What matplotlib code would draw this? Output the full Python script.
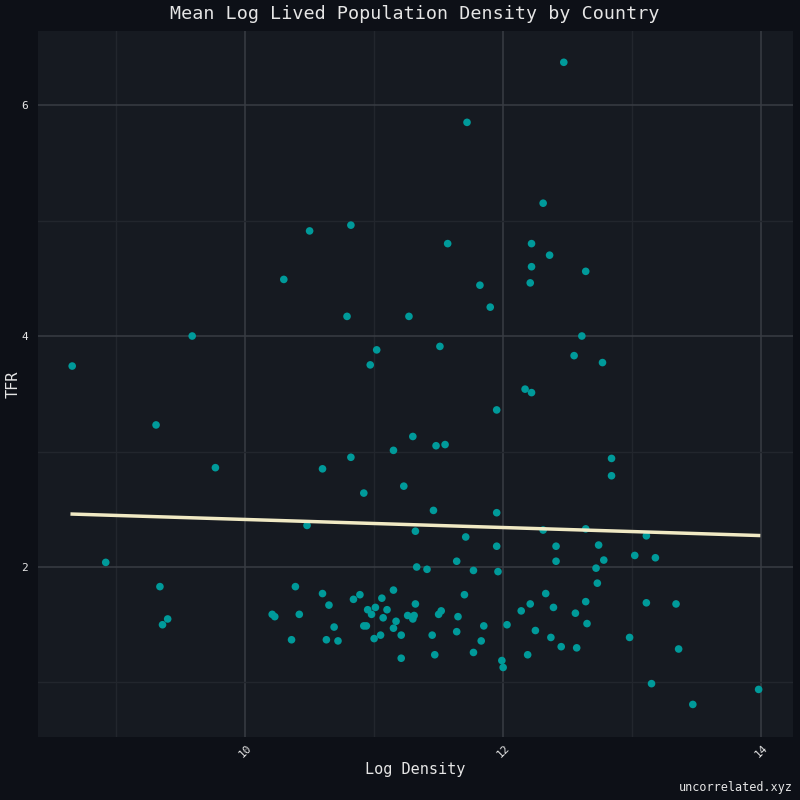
import numpy as np
import matplotlib
matplotlib.use("Agg")
import matplotlib.pyplot as plt
from matplotlib.ticker import MultipleLocator

# mean log lived population density vs total fertility rate, one point per country
log_density = [
    8.66, 8.92, 9.31, 9.34, 9.36, 9.40, 9.59, 9.77, 10.21, 10.23,
    10.30, 10.36, 10.39, 10.42, 10.48, 10.50, 10.60, 10.60, 10.63, 10.65,
    10.69, 10.72, 10.79, 10.82, 10.82, 10.84, 10.89, 10.92, 10.92, 10.94,
    10.95, 10.97, 10.98, 11.00, 11.01, 11.02, 11.05, 11.06, 11.07, 11.10,
    11.15, 11.15, 11.15, 11.17, 11.21, 11.21, 11.23, 11.26, 11.27, 11.30,
    11.30, 11.31, 11.32, 11.32, 11.33, 11.41, 11.45, 11.46, 11.47, 11.48,
    11.50, 11.51, 11.52, 11.55, 11.57, 11.64, 11.64, 11.65, 11.70, 11.71,
    11.72, 11.77, 11.77, 11.82, 11.83, 11.85, 11.90, 11.95, 11.95, 11.95,
    11.96, 11.99, 12.00, 12.03, 12.14, 12.17, 12.19, 12.21, 12.22, 12.22,
    12.22, 12.21, 12.25, 12.31, 12.31, 12.33, 12.36, 12.37, 12.39, 12.41,
    12.41, 12.45, 12.47, 12.55, 12.56, 12.57, 12.61, 12.64, 12.64, 12.64,
    12.65, 12.72, 12.73, 12.74, 12.77, 12.78, 12.84, 12.84, 12.98, 13.02,
    13.11, 13.11, 13.15, 13.18, 13.34, 13.36, 13.47, 13.98,
]
tfr = [
    3.74, 2.04, 3.23, 1.83, 1.50, 1.55, 4.00, 2.86, 1.59, 1.57,
    4.49, 1.37, 1.83, 1.59, 2.36, 4.91, 2.85, 1.77, 1.37, 1.67,
    1.48, 1.36, 4.17, 2.95, 4.96, 1.72, 1.76, 1.49, 2.64, 1.49,
    1.63, 3.75, 1.59, 1.38, 1.65, 3.88, 1.41, 1.73, 1.56, 1.63,
    3.01, 1.80, 1.47, 1.53, 1.41, 1.21, 2.70, 1.58, 4.17, 1.55,
    3.13, 1.58, 2.31, 1.68, 2.00, 1.98, 1.41, 2.49, 1.24, 3.05,
    1.59, 3.91, 1.62, 3.06, 4.80, 2.05, 1.44, 1.57, 1.76, 2.26,
    5.85, 1.97, 1.26, 4.44, 1.36, 1.49, 4.25, 2.47, 2.18, 3.36,
    1.96, 1.19, 1.13, 1.50, 1.62, 3.54, 1.24, 1.68, 4.80, 3.51,
    4.60, 4.46, 1.45, 2.32, 5.15, 1.77, 4.70, 1.39, 1.65, 2.05,
    2.18, 1.31, 6.37, 3.83, 1.60, 1.30, 4.00, 2.33, 1.70, 4.56,
    1.51, 1.99, 1.86, 2.19, 3.77, 2.06, 2.94, 2.79, 1.39, 2.10,
    2.27, 1.69, 0.99, 2.08, 1.68, 1.29, 0.81, 0.94,
]

title = "Mean Log Lived Population Density by Country"
x_label = "Log Density"
y_label = "TFR"
credit = "uncorrelated.xyz"

fig_bg = "#0d1017"
ax_bg = "#161a21"
dot_color = "#009a9a"
fit_color = "#f0e9c4"
text_color = "#e6e6e6"

plt.rcParams["font.family"] = ["DejaVu Sans Mono"]

fig = plt.figure(figsize=(8, 8), dpi=100, facecolor=fig_bg)
ax = fig.add_axes([0.0475, 0.07875, 0.944, 0.8825], facecolor=ax_bg)

x = np.array(log_density)
y = np.array(tfr)
ax.scatter(x, y, s=30, color=dot_color, edgecolors="none", zorder=3)

slope, intercept = np.polyfit(x, y, 1)
xs = np.array([x.min(), x.max()])
ax.plot(xs, slope * xs + intercept, color=fit_color, lw=2.5, zorder=4)

ax.set_xlim(8.395, 14.248)
ax.set_ylim(0.528, 6.641)
ax.xaxis.set_major_locator(MultipleLocator(2))
ax.xaxis.set_minor_locator(MultipleLocator(1))
ax.yaxis.set_major_locator(MultipleLocator(2))
ax.yaxis.set_minor_locator(MultipleLocator(1))
ax.grid(which="major", color="#393d44", lw=1.1)
ax.grid(which="minor", color="#22262d", lw=1.0)
ax.set_axisbelow(True)
for sp in ax.spines.values():
    sp.set_visible(False)

ax.tick_params(which="both", length=0, colors=text_color, labelsize=8)
ax.tick_params(axis="y", pad=7)
ax.tick_params(axis="x", pad=4)
for lbl in ax.get_xticklabels():
    lbl.set_rotation(45)

ax.set_xlabel(x_label, color=text_color, fontsize=11, labelpad=2)
ax.set_ylabel(y_label, color=text_color, fontsize=11, va="center")
ax.yaxis.set_label_coords(-0.033, 0.5)
fig.text(0.519, 0.982, title, color=text_color, fontsize=13.2,
         ha="center", va="center")
fig.text(0.991, 0.016, credit, color=text_color, fontsize=8.5,
         ha="right", va="center")

fig.savefig("out.png", dpi=100, facecolor=fig_bg)
